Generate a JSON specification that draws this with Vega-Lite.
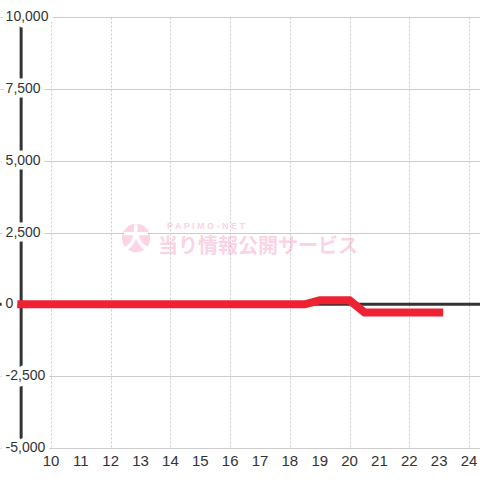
{
  "$schema": "https://vega.github.io/schema/vega-lite/v6.json",
  "width": 480,
  "height": 431,
  "autosize": "none",
  "padding": {"left": 0, "top": 17, "right": 0, "bottom": 32},
  "background": "white",
  "config": {"view": {"stroke": null}, "font": "Liberation Sans"},
  "data": {"values": [{}]},
  "datasets": {
    "series": [
      {"h": 9, "v": 0},
      {"h": 18.5, "v": 0},
      {"h": 19, "v": 140},
      {"h": 20, "v": 140},
      {"h": 20.5, "v": -280},
      {"h": 23, "v": -280}
    ],
    "yticks": [
      {"v": 10000, "label": "10,000"},
      {"v": 7500, "label": "7,500"},
      {"v": 5000, "label": "5,000"},
      {"v": 2500, "label": "2,500"},
      {"v": 0, "label": "0"},
      {"v": -2500, "label": "-2,500"},
      {"v": -5000, "label": "-5,000"}
    ],
    "xticks": [
      {"h": 10}, {"h": 11}, {"h": 12}, {"h": 13}, {"h": 14}, {"h": 15}, {"h": 16},
      {"h": 17}, {"h": 18}, {"h": 19}, {"h": 20}, {"h": 21}, {"h": 22}, {"h": 23}, {"h": 24}
    ]
  },
  "layer": [
    {
      "mark": {"type": "rule", "color": "#333333", "strokeWidth": 3},
      "encoding": {
        "x": {
          "datum": 9,
          "type": "quantitative",
          "scale": {"domain": [8.292, 24.368], "nice": false, "zero": false},
          "axis": {
            "orient": "bottom",
            "values": [10, 11, 12, 13, 14, 15, 16, 17, 18, 19, 20, 21, 22, 23, 24],
            "grid": true,
            "gridColor": "#cccccc",
            "gridDash": [2, 2],
            "gridWidth": 1,
            "domain": false,
            "ticks": false,
            "labels": false,
            "title": null
          }
        },
        "y": {
          "datum": -5000,
          "type": "quantitative",
          "scale": {"domain": [-5000, 10000], "nice": false, "zero": false},
          "axis": {
            "values": [-5000, -3750, -2500, -1250, 0, 1250, 2500, 3750, 5000, 6250, 7500, 8750, 10000],
            "grid": true,
            "gridColor": "#cccccc",
            "gridWidth": 1,
            "domain": false,
            "ticks": false,
            "labels": false,
            "title": null
          }
        },
        "y2": {"datum": 10000}
      }
    },
    {
      "mark": {"type": "rule", "color": "#333333", "strokeWidth": 3},
      "encoding": {
        "y": {"datum": 0, "type": "quantitative"},
        "x": {"datum": 8.292, "type": "quantitative"},
        "x2": {"datum": 24.368}
      }
    },
    {
      "mark": {"type": "point", "shape": "circle", "filled": true, "color": "#f570a5", "opacity": 0.3, "size": 804},
      "encoding": {
        "x": {"datum": 12.85, "type": "quantitative"},
        "y": {"datum": 2309, "type": "quantitative"}
      }
    },
    {
      "mark": {"type": "text", "text": "大", "color": "#ffffff", "font": "Noto Sans CJK JP", "fontWeight": "bold", "fontSize": 27, "align": "center", "baseline": "middle"},
      "encoding": {
        "x": {"datum": 12.85, "type": "quantitative"},
        "y": {"datum": 2240, "type": "quantitative"}
      }
    },
    {
      "mark": {"type": "text", "text": "P A P I M O - N E T", "color": "#f570a5", "opacity": 0.3, "font": "Liberation Sans", "fontWeight": "bold", "fontSize": 9, "align": "left", "baseline": "middle"},
      "encoding": {
        "x": {"datum": 13.885, "type": "quantitative"},
        "y": {"datum": 2740, "type": "quantitative"}
      }
    },
    {
      "mark": {"type": "text", "text": "当り情報公開サービス", "color": "#f570a5", "opacity": 0.3, "font": "Noto Sans CJK JP", "fontWeight": "bold", "fontSize": 20, "align": "left", "baseline": "middle"},
      "encoding": {
        "x": {"datum": 13.584, "type": "quantitative"},
        "y": {"datum": 2000, "type": "quantitative"}
      }
    },
    {
      "data": {"name": "series"},
      "mark": {"type": "line", "color": "#ee2233", "strokeWidth": 8, "strokeCap": "square", "strokeJoin": "miter"},
      "encoding": {
        "x": {"field": "h", "type": "quantitative"},
        "y": {"field": "v", "type": "quantitative"}
      }
    },
    {
      "data": {"name": "yticks"},
      "mark": {"type": "text", "color": "#ffffff", "stroke": "#ffffff", "strokeWidth": 9, "strokeJoin": "round", "fontSize": 14, "font": "Liberation Sans", "align": "left", "baseline": "middle"},
      "encoding": {
        "x": {"datum": 8.48, "type": "quantitative"},
        "y": {"field": "v", "type": "quantitative"},
        "text": {"field": "label"}
      }
    },
    {
      "data": {"name": "yticks"},
      "mark": {"type": "text", "color": "#333333", "fontSize": 14, "font": "Liberation Sans", "align": "left", "baseline": "middle"},
      "encoding": {
        "x": {"datum": 8.48, "type": "quantitative"},
        "y": {"field": "v", "type": "quantitative"},
        "text": {"field": "label"}
      }
    },
    {
      "data": {"name": "xticks"},
      "mark": {"type": "text", "color": "#333333", "fontSize": 15, "font": "Liberation Sans", "align": "center", "baseline": "middle", "dy": 13},
      "encoding": {
        "x": {"field": "h", "type": "quantitative"},
        "y": {"datum": -5000, "type": "quantitative"},
        "text": {"field": "h", "type": "quantitative"}
      }
    }
  ]
}
